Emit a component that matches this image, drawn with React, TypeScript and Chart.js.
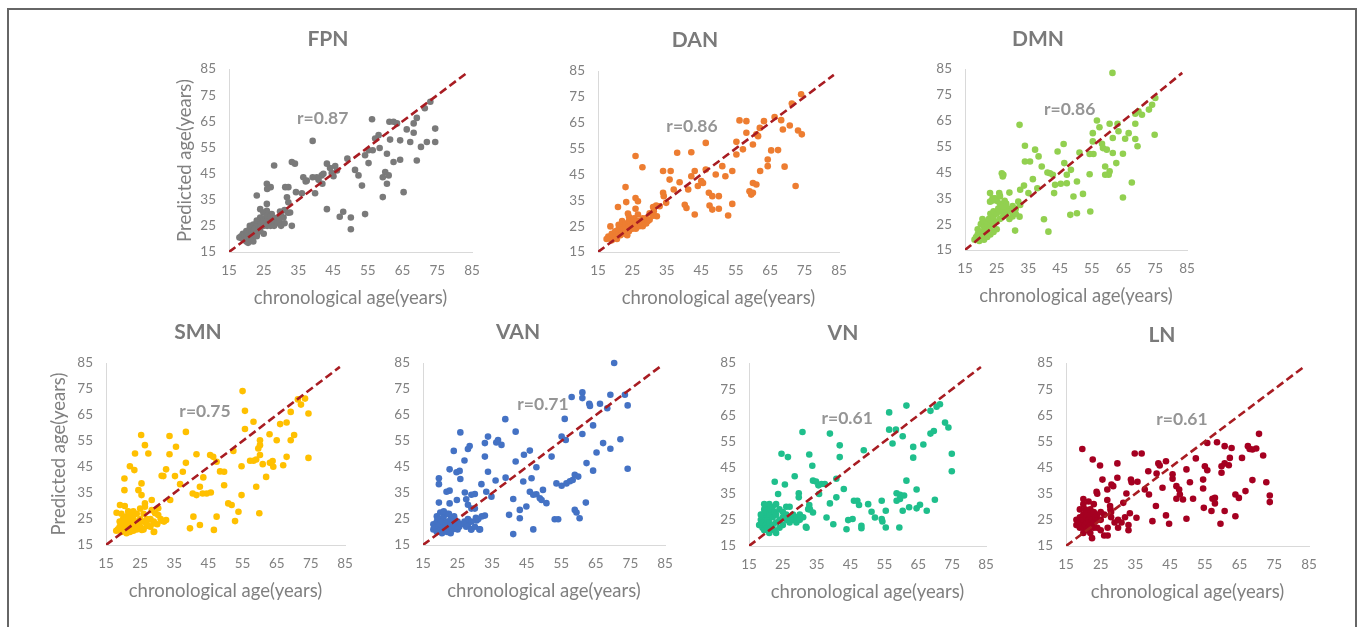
import React, { useEffect, useRef } from "react";
import { Chart, registerables } from "chart.js";

Chart.register(...registerables);

// ---------- data ----------
const NETWORKS = ["FPN", "DAN", "DMN", "SMN", "VAN", "VN", "LN"];
const R_LABELS = ["r=0.87", "r=0.86", "r=0.86", "r=0.75", "r=0.71", "r=0.61", "r=0.61"];
const AXIS_MIN = 15;
const AXIS_MAX = 85;
const AXIS_STEP = 10;
const IDENTITY_LINE = [15, 83.5];
const X_TITLE = "chronological age(years)";
const Y_TITLE = "Predicted age(years)";

const FPN_POINTS: [number, number][] = [
  [73, 72.5], [71.4, 70], [74.4, 62.2], [74.4, 57.1], [72, 57.1], [69.1, 66.3], [68.2, 64.2], [68.2, 60.6],
  [66.2, 61.9], [67.2, 57.1], [70.3, 55.2], [69.1, 50], [64.3, 57.7], [64.3, 50.3], [62.4, 49.4], [65.3, 37.9],
  [61.2, 64.8], [62.4, 64.8], [63.4, 64.2], [61.4, 58], [56.2, 65.8], [60.5, 52.6], [60, 45.6], [61, 44.3],
  [59.3, 43.6], [60.5, 41.1], [59.3, 36], [58.1, 59.7], [57.1, 58.4], [58.4, 54.8], [56.4, 53.9], [55.2, 53.9],
  [54.2, 52], [55.2, 49], [51.3, 46.4], [52.3, 44.3], [53.3, 40.4], [54.2, 29.5], [50.1, 28.2], [50.1, 23.7],
  [49.1, 50.7], [47.9, 30.4], [46.9, 28.5], [45.6, 47.9], [46.1, 46.2], [44.1, 47.1], [44.6, 45.2], [43.2, 48.8],
  [45.1, 44], [43.2, 31.4], [41.9, 41.1], [41.7, 44.3], [42.2, 44.9], [40.3, 43.6], [40.8, 42.6], [39.1, 57.5],
  [39.1, 43.6], [39.8, 37.5], [37.4, 42.3], [36.4, 43.6], [37.1, 42], [36, 37.5], [34, 48.8], [33.1, 49.4],
  [34.3, 37.9], [32.1, 39.8], [32.1, 34], [32.6, 30.1], [33.1, 25], [31.2, 39.8], [31.7, 35.9], [30.7, 28.2],
  [29.7, 30.5], [28, 48.1], [27, 39.8], [25.9, 41.1], [26, 39.1], [25.9, 33.4], [25.9, 30.8], [27.3, 29.5],
  [23, 36.6], [24, 31.4], [24.9, 30.1], [24, 28.2],
  [18, 20.5], [18.5, 21], [19, 20], [19, 22], [19.5, 21.5], [20, 19], [20, 21], [20, 23], [20.5, 22], [21, 20.5],
  [21, 24], [21, 25], [21.5, 22.5], [22, 21], [22, 23], [22, 25.5], [22.5, 24], [23, 22], [23, 26], [23, 27],
  [23.5, 24.5], [24, 23], [24, 25], [24, 27], [24.5, 26], [25, 22], [25, 25], [25, 27], [25.5, 28], [26, 25],
  [26, 27], [26, 29], [26.5, 26], [27, 25], [27, 27], [27, 28.5], [27.5, 26], [28, 25], [28, 27], [28.5, 28],
  [29, 26], [29, 28], [29.5, 27], [30, 25], [30, 29], [31, 26], [31, 31], [32, 30], [20.5, 18.5], [21.5, 19.5],
  [22, 19], [23, 21],
];

const DAN_POINTS: [number, number][] = [
  [74, 76], [71.3, 72.4], [66.3, 67.2], [68.2, 66], [63.2, 65.6], [62, 63], [56.1, 65.9], [58.1, 65.6],
  [58.1, 61.1], [55.2, 57.6], [55.2, 52.7], [57.1, 54.7], [60, 56.6], [61, 60.5], [61.5, 59.8], [68.7, 62.4],
  [70.7, 63.9], [73.1, 62], [74.2, 60.5], [65.3, 54.3], [67.3, 54.4], [64.3, 50.8], [64.3, 48.2], [69.2, 48],
  [62.1, 46.3], [72.4, 40.5], [60, 41.7], [61, 41.1], [59, 38.5], [59.5, 37.2], [60, 37.9], [54, 46.3],
  [51.1, 48.2], [52, 44.3], [49.2, 45], [50.1, 36.6], [50.1, 31.7], [52.8, 29.1], [54, 33.6], [47.2, 37.9],
  [48.2, 36.6], [47.4, 33], [48.2, 31.4], [46.3, 57.2], [46.3, 46.9], [45, 42.4], [45.5, 41.7], [44, 40.5],
  [43.1, 46.3], [42.1, 53.6], [42.1, 44.3], [43.1, 29.5], [40.7, 32], [40.2, 33.3], [41.2, 39.2], [38.7, 42],
  [38, 53.4], [36.1, 46.3], [35.8, 43], [33.9, 46.3], [37, 39.2], [34.8, 34], [33.9, 37.9], [34.1, 36.6],
  [32.9, 32.7], [31.9, 33], [31, 32.4], [31.2, 30.8], [32.1, 28.8], [25.9, 52.1], [27.9, 47.8], [23, 40.1],
  [23.2, 34.3], [20.8, 32.4], [25.9, 35.9], [26.6, 34.6], [26.6, 29.5], [23.7, 29.9], [24, 28.6], [25.9, 31.7],
  [18.6, 24.9], [17.5, 20], [18, 21], [18.5, 20.5], [19, 19.5], [19, 22], [20, 21], [20, 23], [20.5, 20],
  [21, 22], [21, 24], [21, 25.5], [21.5, 21.5], [22, 23], [22, 25], [22, 27], [22.5, 24], [23, 22], [23, 24],
  [23, 26], [23.5, 21.5], [24, 23], [24, 25], [24, 27], [25, 24], [25, 26], [25.5, 28], [26, 24], [26, 26],
  [26.5, 27], [27, 25], [27, 27], [27.5, 26], [28, 25], [28, 26.5], [28, 28], [28.5, 27], [29, 26], [29, 28],
  [29.5, 27], [30, 27.5], [30, 30], [31, 29],
];

const DMN_POINTS: [number, number][] = [
  [61.5, 83.5], [75, 73.8], [74, 71.2], [73, 69.3], [70.8, 67.3], [69.7, 68.6], [68.7, 67.7], [74.8, 59.6],
  [68.7, 63.8], [69.4, 55.1], [68.7, 57.9], [66.6, 60.2], [65.5, 58], [63.4, 60.9], [63.1, 63.8], [60.6, 63.8],
  [56.6, 65.1], [57.4, 62.5], [55.3, 60.2], [55.3, 57], [54.3, 52.1], [55.5, 52.1], [58.2, 56.1], [58.5, 54.4],
  [59.7, 53.8], [61.6, 58.3], [61.6, 52.5], [62.7, 48.6], [64.8, 52.2], [59.2, 47.3], [60.6, 45.4], [60.3, 44.1],
  [59.2, 44.1], [67.6, 41.1], [64.8, 35.3], [54.5, 29.9], [52.2, 36.7], [50.3, 41.5], [54.3, 44.3], [51.1, 52.7],
  [48.4, 46], [49.2, 35.7], [50.3, 29.2], [48.2, 28.6], [46.1, 56], [46.3, 48.6], [44.2, 53.1], [43.4, 40.2],
  [45.2, 40.6], [47.1, 40.8], [47.1, 44.1], [43.1, 37], [41, 45], [41.8, 44.7], [42.7, 44.1], [41.3, 22.1],
  [39.9, 26.9], [39.2, 47.3], [38.2, 51.2], [37.1, 53.8], [35.5, 49.2], [33.9, 49.2], [33.9, 55.3], [32.2, 63.4],
  [33.6, 39.9], [35, 37], [37.8, 38.9], [36.4, 42.4], [32.4, 38.3], [31.8, 33.7], [32.4, 32.4], [32.2, 27.9],
  [30.8, 22.5], [29, 37.2], [26.6, 44.7], [27.1, 44.1], [26.9, 43.4], [22.9, 37], [23.7, 35], [22.9, 33.7],
  [25.8, 37], [26, 35.7], [24, 29.5],
  [18, 19], [18.5, 20], [19, 21], [19, 23], [19.5, 18.5], [20, 20], [20, 22], [20, 25], [20.5, 27], [21, 19],
  [21, 21], [21, 24], [21, 26], [21.5, 23], [22, 20], [22, 22], [22, 25], [22.5, 27], [23, 21], [23, 24],
  [23, 29], [23.5, 26], [24, 22], [24, 25], [24, 28], [24, 30], [25, 23], [25, 26], [25, 29], [25, 34],
  [25.5, 31], [26, 27], [26, 30], [26, 33], [27, 28], [27, 30], [27, 32], [28, 29], [28, 33], [28.5, 31],
  [29, 27], [29, 30], [30, 28], [30, 32], [31, 29], [31, 31], [24.5, 35], [23.5, 34], [26, 36], [27.5, 34],
];

const SMN_POINTS: [number, number][] = [
  [55, 74.2], [55.7, 66.6], [73.3, 71.3], [71.2, 71], [72.1, 69], [74.3, 65.6], [69.1, 66.2], [67.9, 62.1],
  [66, 61.5], [58.2, 62.4], [55.7, 59.6], [60.1, 55.3], [65, 55.3], [69.1, 55.3], [70.1, 57.3], [62.9, 57.6],
  [59.6, 52.1], [60.1, 53.4], [60.1, 49.6], [67.9, 48.9], [66.9, 45.7], [74.3, 48.5], [63.8, 47.3], [64, 45.1],
  [63, 46.6], [60.9, 46.1], [57.2, 47.4], [58.2, 47.4], [59, 47.9], [61.9, 41.2], [59, 37.4], [54.7, 45.3],
  [54.7, 34.2], [53.8, 27.8], [59.9, 27.2], [52.8, 24.2], [52.3, 51.2], [48.4, 43.3], [49.6, 43.2], [45.5, 49.6],
  [46.4, 48.9], [47.4, 47], [49.6, 38], [50.8, 31], [51.8, 30.4], [47.4, 25.9], [46.6, 20.8], [45.7, 35.2],
  [44.5, 34.8], [43.3, 34.8], [43.5, 41], [42.5, 37.4], [41.5, 49.9], [41.5, 34.2], [40.4, 34.8], [40.6, 25.9],
  [39.6, 21.4], [42.5, 22.7], [38.4, 58.5], [38.4, 46.6], [37.5, 43.2], [35.5, 52.8], [35.2, 41.5], [33.6, 56.9],
  [33.6, 49.9], [33.8, 32.3], [32.6, 44.1], [31.8, 41.5], [31.3, 41.6], [32.6, 24.6], [31.3, 24.3], [36.7, 38.4],
  [25.3, 57.3], [26.4, 53.4], [27.4, 50.2], [23.5, 50.2], [22, 45.3], [23.3, 43.8], [20.4, 40.6], [20.4, 36.1],
  [24.5, 36.1], [25.4, 38.7], [25.4, 34.2], [26.4, 31], [26.4, 29.7], [28.4, 32.3], [28.4, 28.4], [29.4, 27.2],
  [30.3, 26.5], [30.3, 29.1], [28.9, 23.3], [29.1, 20.1], [25.5, 20.8], [26.9, 22.3], [19.1, 30.4], [18.1, 27.4],
  [18, 20.5], [18.5, 21], [19, 22], [19, 24], [19.5, 20], [20, 21], [20, 23], [20, 25], [20.5, 22], [21, 19.5],
  [21, 21], [21, 24], [21, 26], [21.5, 23], [22, 20], [22, 22], [22, 25], [22, 27], [22.5, 24], [23, 20.5],
  [23, 23], [23, 26], [23, 28], [23.5, 22], [24, 21], [24, 24], [24, 27], [24.5, 23], [25, 22], [25, 25],
  [25, 29], [26, 21], [26, 24], [26, 27], [27, 23], [27, 25], [28, 22], [28, 25], [29, 20], [29, 24],
  [30, 23], [31, 25], [32, 24], [19.5, 27], [20.5, 30], [21.5, 28],
];

const VAN_POINTS: [number, number][] = [
  [70.3, 85], [69.2, 72.8], [73.4, 72.8], [61.1, 73.7], [61.1, 71.5], [58, 71.9], [63.1, 69.3], [63.3, 68.5],
  [66.2, 69.3], [68.3, 67.6], [74.2, 68.7], [56, 63.5], [64.2, 61], [61.1, 57.7], [56.3, 55.4], [55.1, 56.7],
  [67.1, 54.2], [72.1, 55.7], [69.2, 52], [65.2, 50.6], [52.2, 49], [62.3, 46.5], [64.2, 43.6], [74.2, 44.3],
  [58.9, 42], [59.9, 41.3], [53.6, 38.7], [55.1, 37.8], [56.5, 38.7], [57.5, 39.5], [58.3, 40], [62.1, 31.3],
  [58.9, 28.5], [59.4, 27.5], [60.3, 25.3], [53.1, 24.9], [54.1, 24.9], [50.7, 31.1], [49.7, 36.2], [47.8, 34.5],
  [48.8, 33], [49.3, 32.3], [45.9, 35.5], [46.9, 34.3], [47.8, 44.9], [45.9, 51.3], [44.2, 49.7], [46.4, 40.7],
  [44, 39.4], [44.9, 29.8], [43, 28.5], [43, 25.3], [46.9, 21], [41.1, 19.2], [41.1, 32.7], [41.8, 47.1],
  [41.8, 58.6], [38.8, 63.4], [39.9, 26.6], [38.9, 40.9], [37.7, 53.5], [36.2, 54.4], [36.7, 55.4], [33.8, 56.7],
  [32.9, 54.2], [32.9, 49], [33.8, 43.2], [36, 39.8], [34.8, 33.6], [33.3, 35.5], [31.9, 38.4], [32.9, 26.3],
  [28.5, 53.1], [28, 51.9], [25.8, 58.3], [27, 47.5], [25.6, 43.5], [24.7, 43], [25.8, 40.4], [23.9, 51.2],
  [22.7, 44.1], [21.8, 35.5], [22.7, 35.9], [22.7, 31], [19.6, 40.7], [19.6, 38.4], [19.6, 31.3], [24.8, 32.3],
  [27.1, 35.2], [27.5, 32.6], [29, 34.3], [30, 34.6], [28, 30.5], [29, 29], [30, 29], [30.3, 25.5],
  [30.5, 24.4], [31.3, 21], [28.9, 21], [28, 23],
  [18, 21], [18, 23], [18.5, 22], [19, 20], [19, 24], [19.5, 22.5], [19, 26], [20, 21], [20, 23], [20, 25],
  [20.5, 20], [20.5, 24], [21, 22], [21, 26], [21.5, 21], [21.5, 23.5], [22, 20], [22, 24], [22, 27], [22.5, 22],
  [23, 19.5], [23, 23], [23, 25], [23.5, 21], [24, 22.5], [24, 26], [25, 21], [25, 24], [25.5, 22], [26, 23],
  [27, 24], [27.5, 22], [28, 25], [29, 21], [29, 24], [30, 22], [31, 25], [31.5, 21], [32, 26], [20, 27.5],
  [21, 28], [22.5, 27], [24, 25], [20.5, 19.5],
];

const VN_POINTS: [number, number][] = [
  [61.5, 68.7], [56.4, 66.1], [71.4, 69.2], [70.4, 68.3], [68.6, 66.7], [72.9, 62.2], [73.9, 60.3], [68.6, 58],
  [69.6, 59], [74.9, 50.3], [74.9, 43.6], [56.4, 59.5], [58.4, 59.5], [57.4, 54.2], [60.4, 57], [63.5, 52.9],
  [63.5, 48.8], [66.5, 53.8], [61.5, 40], [64.5, 36.6], [58.6, 35.2], [59.6, 34.6], [60.8, 34.3], [58.6, 32.3],
  [59.6, 33], [60.4, 28.5], [62.3, 29.8], [64.5, 29.4], [65.5, 30.8], [67.5, 28.5], [69.9, 32.7], [59.4, 22.1],
  [55.4, 28.5], [54.2, 32.3], [54.2, 25.3], [54.4, 24.4], [55.4, 22.1], [52.2, 25.9], [50.2, 31], [51.2, 28.1],
  [48.9, 51.6], [47, 32.3], [47.5, 30.7], [46, 32.3], [45.6, 25.3], [44.3, 24.9], [43.8, 21.4], [48.2, 22.7],
  [48.2, 21.8], [43, 36.8], [41.8, 53.5], [41.8, 49], [40.8, 40.7], [40.8, 33.6], [39.9, 23.3], [37.9, 25.9],
  [38.9, 31.3], [38.9, 58], [37.4, 38.7], [36.4, 38.7], [35.7, 34.9], [33.9, 40], [33.7, 45.7], [32.8, 50],
  [33.9, 27.8], [32.8, 30.7], [32.5, 29.1], [30.8, 58.6], [29.7, 35.2], [29.7, 33.6], [31.8, 22.3], [28.5, 41.7],
  [26.5, 49], [24.6, 50.3], [25.6, 38.5], [23.6, 34.9], [22.6, 39.6], [34.8, 39.7], [35.5, 38.2],
  [18, 23], [18.5, 25], [19, 22], [19, 24], [19, 27], [19.5, 29], [19.5, 21], [20, 23], [20, 26], [20, 28],
  [20, 30], [20.5, 22], [20.5, 25], [21, 20], [21, 24], [21, 27], [21, 31], [21.5, 22], [21.5, 29], [22, 23],
  [22, 26], [22, 30], [22.5, 21], [22.5, 28], [23, 20], [23, 24], [23, 27], [23, 31], [24, 22], [24, 25],
  [24, 29], [25, 23], [25, 26], [25, 28], [26, 25], [26, 27], [26, 30], [27, 24], [27, 26], [27, 30],
  [28, 25], [28, 27], [29, 24], [29, 26], [30, 27], [30, 25], [31, 26], [32, 22], [33, 29], [18.5, 27],
  [19.5, 31],
];

const LN_POINTS: [number, number][] = [
  [70.6, 57.9], [67.4, 53.2], [68.7, 51.9], [67.9, 52.1], [69.8, 52.3], [71.8, 49.6], [72.7, 39.4], [73.7, 34.3],
  [73.7, 31.8], [68.7, 40.2], [66.7, 36], [65.7, 48.7], [62.7, 52.5], [62.2, 48.7], [60.7, 53.2], [60.7, 46.6],
  [61.9, 45.9], [59.8, 45.5], [59.8, 43], [58.5, 54.7], [55.7, 54.4], [55, 45.5], [55.7, 44], [54.5, 40.4],
  [54.5, 37], [52.4, 48.5], [50.7, 39.4], [51.6, 33.1], [49.7, 44.3], [48.7, 32.8], [46.8, 37.9], [47.6, 36.6],
  [47.8, 34.7], [46.8, 33.1], [45.7, 42.4], [45.7, 40.7], [43.8, 47.4], [41.6, 46.6], [42, 45.8], [41.1, 42.7],
  [42.8, 37.3], [40.9, 30.3], [39.9, 24.5], [49.7, 25.4], [43.8, 26.7], [44.7, 23.5], [57.2, 33.1], [54.7, 29.6],
  [56.9, 28.4], [57.9, 31.3], [57.9, 33.4], [59.5, 23.5], [60.7, 28.4], [63.8, 26.4], [63.8, 34.7], [64.8, 33.4],
  [38.7, 43.6], [38.9, 34.7], [37.7, 36.6], [36.8, 50.4], [34.8, 50.4], [33.7, 40.4], [33.9, 39.4], [35.6, 39.6],
  [33.4, 27.5], [35.3, 25.8], [32.4, 35.1], [31.5, 31.5], [29.8, 46.6], [29.8, 41.1], [28.1, 38.5], [28.6, 37.9],
  [26.9, 36.6], [26.9, 32.6], [27.7, 30.3], [27.8, 29], [25.5, 40.4], [24.8, 45.8], [22.7, 48.1], [19.7, 52.1],
  [23.8, 35.7],
  [18, 23], [18, 25], [18.5, 24], [19, 22], [19, 26], [19, 29], [19.5, 24], [20, 20], [20, 22], [20, 25],
  [20, 27], [20, 31], [20, 33], [20.5, 23], [20.5, 29], [21, 21], [21, 24], [21, 26], [21, 28], [21.5, 22],
  [21.5, 25], [21.5, 32], [22, 20], [22, 23], [22, 27], [22, 29], [22.5, 18], [22.5, 25], [23, 22], [23, 24],
  [23, 28], [23, 31], [23.5, 26], [24, 22], [24, 25], [24, 27], [24, 35], [25, 21], [25, 25], [25, 28],
  [26, 19], [26, 27], [27, 19], [27, 22], [28, 26], [28, 28], [29, 24], [30, 22], [30, 25], [31, 24],
  [32, 26], [33, 21], [33, 23],
];

const SERIES = [FPN_POINTS, DAN_POINTS, DMN_POINTS, SMN_POINTS, VAN_POINTS, VN_POINTS, LN_POINTS];
const COLORS = ["#7a7a7a", "#ed7d31", "#92d050", "#ffc000", "#4472c4", "#1fbf8c", "#a50021"];

// ---------- layout (page pixels) ----------
type Box = { l: number; r: number; t: number; b: number; tx: number; ty: number; rx: number; ry: number; yt: number };
const LAYOUT: Box[] = [
  { l: 229, r: 472, t: 69, b: 252, tx: 328, ty: 39, rx: 42, ry: 66, yt: 44 },
  { l: 598, r: 839, t: 71, b: 252, tx: 695, ty: 40, rx: 42.3, ry: 63.6, yt: 0 },
  { l: 965, r: 1187, t: 69, b: 250, tx: 1038, ty: 39, rx: 48, ry: 69.5, yt: 0 },
  { l: 106, r: 345, t: 363, b: 545, tx: 198, ty: 332, rx: 44, ry: 66.5, yt: 47 },
  { l: 423, r: 665, t: 363, b: 545, tx: 518, ty: 332, rx: 49.7, ry: 69, yt: 0 },
  { l: 749, r: 986, t: 363, b: 546, tx: 843, ty: 333, rx: 44, ry: 64, yt: 0 },
  { l: 1066, r: 1309, t: 363, b: 546, tx: 1162, ty: 335, rx: 48.4, ry: 63.3, yt: 0 },
];

const FONT = "Lato, 'Open Sans', sans-serif";
const TEXT_GRAY = "#808080";
const R_GRAY = "#959595";
const LINE_RED = "#a81c22";
const PAD_L = 90;
const PAD_T = 65;
const PAD_R = 30;
const PAD_B = 70;

function ScatterPanel({ idx }: { idx: number }) {
  const ref = useRef<HTMLCanvasElement>(null);
  const L = LAYOUT[idx];
  const cw = L.r - L.l + PAD_L + PAD_R;
  const ch = L.b - L.t + PAD_T + PAD_B;
  const left = L.l - PAD_L;
  const top = L.t - PAD_T;

  useEffect(() => {
    if (!ref.current) return;
    const textPlugin = {
      id: "panelText",
      afterDraw(chart: any) {
        const ctx = chart.ctx as CanvasRenderingContext2D;
        const a = chart.chartArea;
        ctx.save();
        ctx.textAlign = "center";
        ctx.textBaseline = "middle";
        ctx.fillStyle = "#7a7a7a";
        ctx.font = `bold 21px ${FONT}`;
        ctx.fillText(NETWORKS[idx], L.tx - left, L.ty - top);
        ctx.font = `bold 17.5px ${FONT}`;
        ctx.fillStyle = R_GRAY;
        ctx.fillText(R_LABELS[idx], chart.scales.x.getPixelForValue(L.rx), chart.scales.y.getPixelForValue(L.ry));
        ctx.font = `18.5px ${FONT}`;
        ctx.fillStyle = TEXT_GRAY;
        ctx.fillText(X_TITLE, (a.left + a.right) / 2, a.bottom + 46);
        if (L.yt) {
          ctx.translate(a.left - L.yt, (a.top + a.bottom) / 2);
          ctx.rotate(-Math.PI / 2);
          ctx.fillText(Y_TITLE, 0, 0);
        }
        ctx.restore();
      },
    };
    const axis = (isX: boolean) => ({
      type: "linear" as const,
      min: AXIS_MIN,
      max: AXIS_MAX,
      grid: { display: false, drawTicks: false },
      border: { display: true, color: "#d9d9d9", width: 1 },
      ticks: {
        stepSize: AXIS_STEP,
        color: TEXT_GRAY,
        font: { family: FONT, size: 13.5 },
        padding: isX ? 11 : 13,
        maxRotation: 0,
        autoSkip: false,
      },
      afterFit: (s: any) => {
        if (isX) s.height = PAD_B;
        else s.width = PAD_L;
      },
    });
    const chart = new Chart(ref.current, {
      type: "scatter",
      data: {
        datasets: [
          {
            type: "line" as any,
            data: IDENTITY_LINE.map((v) => ({ x: v, y: v })),
            borderColor: LINE_RED,
            borderWidth: 2.6,
            borderDash: [8, 4],
            pointRadius: 0,
            fill: false,
          } as any,
          {
            data: SERIES[idx].map(([x, y]) => ({ x, y })),
            backgroundColor: COLORS[idx],
            borderWidth: 0,
            pointRadius: 3.3,
            clip: false,
          } as any,
        ],
      },
      options: {
        animation: false,
        responsive: false,
        maintainAspectRatio: false,
        events: [],
        layout: { padding: { top: PAD_T, right: PAD_R, left: 0, bottom: 0 } },
        plugins: { legend: { display: false }, tooltip: { enabled: false }, title: { display: false } },
        scales: { x: axis(true), y: axis(false) },
      },
      plugins: [textPlugin],
    });
    return () => chart.destroy();
  }, [idx]);

  return (
    <canvas
      ref={ref}
      width={cw}
      height={ch}
      style={{ position: "fixed", left, top, width: cw, height: ch }}
    />
  );
}

export default function App() {
  return (
    <>
      <div
        style={{
          position: "fixed",
          left: 7,
          top: 8,
          width: 1350,
          height: 640,
          border: "2px solid #666",
          boxSizing: "border-box",
          background: "#fff",
        }}
      />
      {NETWORKS.map((_, i) => (
        <ScatterPanel key={i} idx={i} />
      ))}
    </>
  );
}
